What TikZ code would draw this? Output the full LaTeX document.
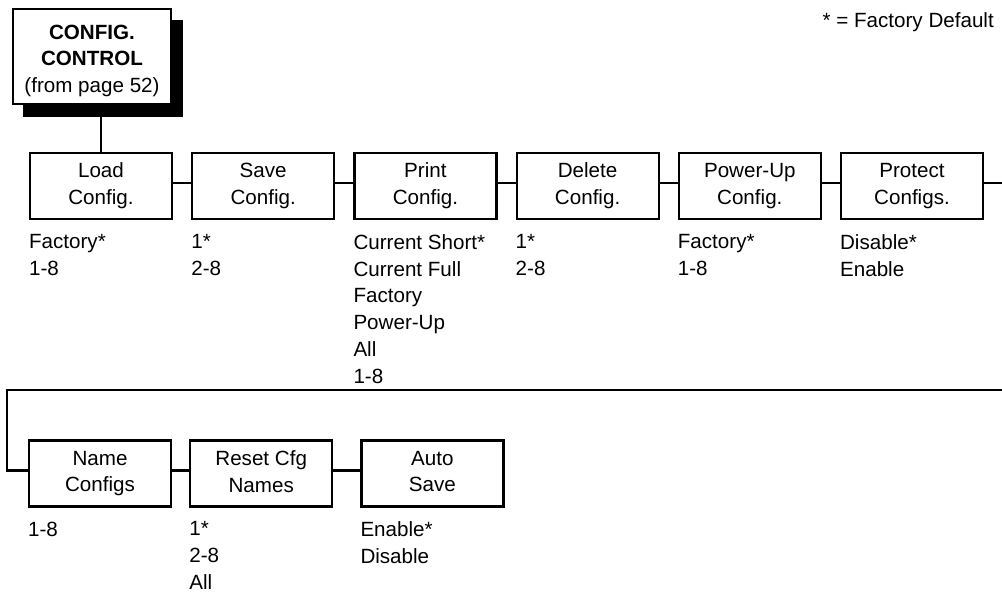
\documentclass[tikz,border=0pt]{standalone}
\usepackage{fontspec}
\setmainfont{Liberation Sans}
\usetikzlibrary{positioning}
\usetikzlibrary{shadows}

\begin{document}
\begin{tikzpicture}[x=1pt, y=-1pt, font=\fontsize{20.6}{26.8}\selectfont]
% Styles:
\tikzset{menubox/.style={draw, line width=2.2pt, fill=white, align=center, minimum width=142pt, minimum height=66pt, inner sep=0pt, execute at end node={\vphantom{g}}}}
\tikzset{topbox/.style={menubox, minimum width=158pt, minimum height=95pt, drop shadow={shadow xshift=11pt, shadow yshift=-12pt, fill=black, opacity=1, draw, line width=2.2pt}}}
\tikzset{optlist/.style={align=left, inner sep=0pt}}
\tikzset{link/.style={line width=2.2pt}}
\tikzset{node distance = 14pt and 18pt}

\useasboundingbox (0,0) rectangle (1002,592);

% Top node:
\node[topbox] (cfg) at (92,56.5) {};
\node[align=center, inner sep=0pt, anchor=north] (cfgtext) at ([yshift=-16.6pt]cfg.north) {\textbf{CONFIG.}\\\textbf{CONTROL}\\(from page 52)};
\node[inner sep=0pt, anchor=base east] (legend) at (994,27.4) {* = Factory Default};

% First row:
\node[menubox] (load)    at (101,186)     {Load\\Config.};
\node[menubox] (save)    [right = of load]   {Save\\Config.};
\node[menubox] (print)   [right = of save]   {Print\\Config.};
\node[menubox] (delete)  [right = of print]  {Delete\\Config.};
\node[menubox] (powerup) [right = of delete] {Power-Up\\Config.};
\node[menubox] (protect) [right = of powerup] {Protect\\Configs.};

% Second row:
\node[menubox] (name)  at (100,473.5)          {Name\\Configs};
\node[menubox] (reset) [right = 17pt of name]  {Reset Cfg\\Names};
\node[menubox] (auto)  [right = 27pt of reset] {Auto\\Save};

% Option lists:
\node[optlist] (loadopt)    [below right = 14pt and 0pt of load.south west]    {Factory*\\1-8};
\node[optlist] (saveopt)    [below right = 14pt and 0pt of save.south west]    {1*\\2-8};
\node[optlist] (printopt)   [below right = 14pt and 0pt of print.south west]   {Current Short*\\Current Full\\Factory\\Power-Up\\All\\1-8};
\node[optlist] (deleteopt)  [below right = 14pt and 0pt of delete.south west]  {1*\\2-8};
\node[optlist] (powerupopt) [below right = 14pt and 0pt of powerup.south west] {Factory*\\1-8};
\node[optlist] (protectopt) [below right = 14pt and 0pt of protect.south west] {Disable*\\Enable};
\node[optlist] (nameopt)    [below right = 14pt and 0pt of name.south west]    {1-8};
\node[optlist] (resetopt)   [below right = 14pt and 0pt of reset.south west]   {1*\\2-8\\All};
\node[optlist] (autoopt)    [below right = 14pt and 0pt of auto.south west]    {Enable*\\Disable};

% Connectors:
\coordinate (rowstart) at (7,390);
\coordinate (rowend)   at (1002,390);
\draw[link] (load.north) -- (load.north |- cfg.south);
\foreach \a/\b in {load/save, save/print, print/delete, delete/powerup, powerup/protect, name/reset, reset/auto}
  \draw[link] ([yshift=3pt]\a.east) -- ([yshift=3pt]\b.west);
\draw[link] ([yshift=3pt]protect.east) -- ([yshift=3pt]protect.east -| rowend);
\draw[link] ([yshift=3pt]name.west) -| (rowstart) -- (rowend);
\end{tikzpicture}
\end{document}
